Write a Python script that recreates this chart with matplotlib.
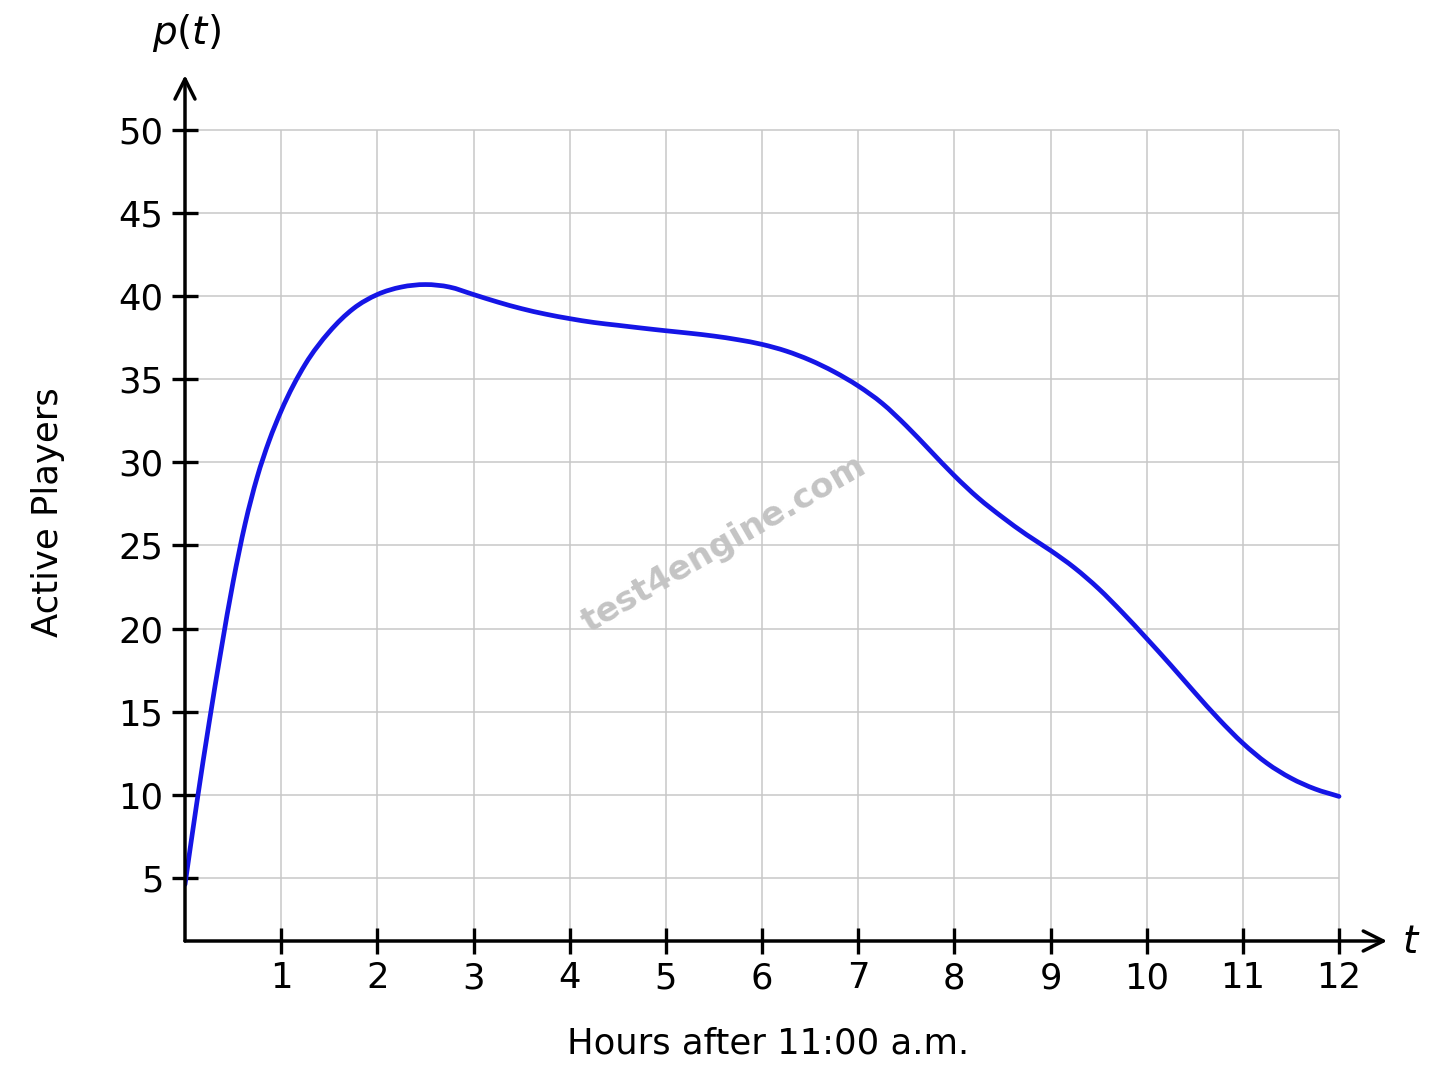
import matplotlib
matplotlib.use('Agg')
import matplotlib.pyplot as plt
import numpy as np
from matplotlib.path import Path
from matplotlib.patches import PathPatch

# Data
hours = [0, 0.125, 0.25, 0.375, 0.5, 0.625, 0.75, 0.875, 1,
         1.25, 1.5, 1.75, 2, 2.25, 2.5, 2.75, 3, 3.25, 3.5, 3.75,
         4, 4.25, 4.5, 4.75, 5, 5.25, 5.5, 5.75, 6, 6.25, 6.5, 6.75,
         7, 7.25, 7.5, 7.75, 8, 8.25, 8.5, 8.75, 9, 9.25, 9.5, 9.75,
         10, 10.25, 10.5, 10.75, 11, 11.25, 11.5, 11.75, 12]
players = [4.6, 9.6, 14.3, 18.7, 22.8, 26.3, 29.1, 31.3, 33.1,
           35.9, 37.85, 39.25, 40.1, 40.55, 40.7, 40.55, 40.1, 39.65, 39.25, 38.92,
           38.65, 38.42, 38.25, 38.08, 37.92, 37.77, 37.6, 37.38, 37.1, 36.7, 36.15, 35.45,
           34.6, 33.55, 32.2, 30.7, 29.2, 27.85, 26.7, 25.65, 24.7, 23.65, 22.4, 20.95,
           19.4, 17.8, 16.15, 14.55, 13.1, 11.9, 11.0, 10.35, 9.9]
x_ticks = list(range(1, 13))
y_ticks = list(range(5, 55, 5))

plt.rcParams['font.family'] = ['DejaVu Sans']
plt.rcParams['mathtext.fontset'] = 'dejavusans'

W, H = 1448, 1086
fig = plt.figure(figsize=(W / 100, H / 100), dpi=100)
fig.patch.set_facecolor('white')

x0_px, xaxis_px = 185, 941
xmax, ymin, ymax = 12.6, 1.2, 53.5
px_per_x = 96.17
px_per_y = 16.62
right_px = x0_px + xmax * px_per_x
top_px = 130 - (ymax - 50) * px_per_y
ax = fig.add_axes([x0_px / W, (H - xaxis_px) / H, (right_px - x0_px) / W, (xaxis_px - top_px) / H])
ax.set_xlim(0, xmax)
ax.set_ylim(ymin, ymax)
for s in ax.spines.values():
    s.set_visible(False)
ax.set_facecolor('none')

grid_c = '#c8c8c8'
ax.vlines(x_ticks, ymin, max(y_ticks), color=grid_c, lw=1.1, zorder=1)
ax.hlines(y_ticks, 0, max(x_ticks), color=grid_c, lw=1.1, zorder=1)

# smooth curve through the read points (cubic Bezier segments in data coordinates)
t = np.asarray(hours, dtype=float)
v = np.asarray(players, dtype=float)
m = np.gradient(v, t)
verts = [(t[0], v[0])]
codes = [Path.MOVETO]
for i in range(len(t) - 1):
    h = t[i + 1] - t[i]
    verts += [(t[i] + h / 3, v[i] + m[i] * h / 3),
              (t[i + 1] - h / 3, v[i + 1] - m[i + 1] * h / 3),
              (t[i + 1], v[i + 1])]
    codes += [Path.CURVE4] * 3
curve = PathPatch(Path(verts, codes), fill=False, edgecolor='#1515e6', lw=3.4,
                  capstyle='round', joinstyle='round', zorder=3)
ax.add_patch(curve)

ap = dict(arrowstyle='->', lw=2.5, color='black', mutation_scale=36, shrinkA=0, shrinkB=0)
ax.annotate('', xy=(12.5, ymin), xytext=(0, ymin), arrowprops=ap, annotation_clip=False, zorder=4)
ax.annotate('', xy=(0, 53.3), xytext=(0, ymin), arrowprops=ap, annotation_clip=False, zorder=4)

ax.set_xticks(x_ticks)
ax.set_yticks(y_ticks)
ax.tick_params(direction='inout', length=19, width=2.4, labelsize=25.5, colors='black')
ax.tick_params(axis='x', pad=5)
ax.tick_params(axis='y', pad=6)

fig.text(768 / W, 1 - 1043 / H, 'Hours after 11:00 a.m.', ha='center', va='center', fontsize=25.5)
fig.text(48 / W, 1 - 512 / H, 'Active Players', ha='center', va='center', rotation=90, fontsize=25.5)
fig.text(187 / W, 1 - 33 / H, r'$p(t)$', ha='center', va='center', fontsize=28)
fig.text(1411 / W, 1 - 942 / H, r'$t$', ha='center', va='center', fontsize=28)

fig.text(724 / W, 1 - 544 / H, 'test4engine.com', ha='center', va='center', rotation=30,
         fontsize=24.5, fontweight='bold', color='#c4c4c4', zorder=0)

fig.savefig('out.png', dpi=100, facecolor='white')
